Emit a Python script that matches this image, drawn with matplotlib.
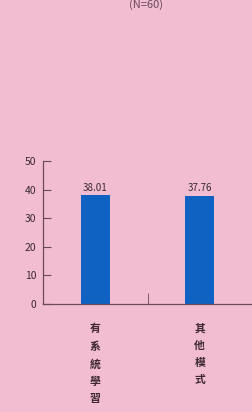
import matplotlib.pyplot as plt

plt.rcParams['font.family'] = ['Noto Sans CJK TC', 'DejaVu Sans']

categories = ['有系統學習', '其他模式']
values = [38.01, 37.76]
value_labels = ['38.01', '37.76']
yticks = [0, 10, 20, 30, 40, 50]

bg = '#f2bdd1'
bar_color = '#0f62c2'
axis_color = '#6b4a5c'

fig = plt.figure(figsize=(2.52, 4.12), dpi=100)
fig.patch.set_facecolor(bg)
ax = fig.add_axes([0.171, 0.262, 0.829, 0.347])
ax.set_facecolor(bg)

x = list(range(len(categories)))
ax.bar(x, values, width=0.28, color=bar_color, zorder=2)
for xi, v, lab in zip(x, values, value_labels):
    ax.text(xi, v + 1.0, lab, ha='center', va='bottom', fontsize=7, color='#3a2a33')

ax.set_xlim(-0.5, 1.5)
ax.set_ylim(0, 50)
ax.set_yticks(yticks)
ax.set_yticklabels([str(t) for t in yticks], fontsize=7.5, color='#3a2a33')

# 類別標籤直排
ax.set_xticks(x)
ax.set_xticklabels(['\n'.join(c) for c in categories], fontsize=7.8,
                   color='#3f2834', linespacing=1.85, va='top', fontweight='bold')
ax.tick_params(axis='x', length=0, pad=14)
ax.set_xticks([0.5, 1.5], minor=True)
ax.tick_params(axis='x', which='minor', direction='in', length=8, color=axis_color)
ax.tick_params(axis='y', direction='in', length=6, color=axis_color, pad=5)

for side in ['top', 'right']:
    ax.spines[side].set_visible(False)
for side in ['left', 'bottom']:
    ax.spines[side].set_color(axis_color)
    ax.spines[side].set_linewidth(0.9)

fig.text(0.58, 0.99, '(N=60)', ha='center', va='center', fontsize=8, color='#6b4a5c')

fig.savefig('out.png', dpi=100, facecolor=bg)
